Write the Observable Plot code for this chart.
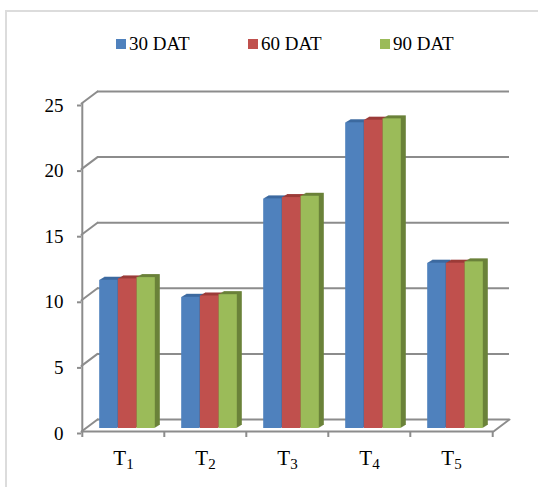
<!DOCTYPE html>
<html>
<head>
<meta charset="utf-8">
<script src="https://cdn.jsdelivr.net/npm/d3@7"></script>
<script src="https://cdn.jsdelivr.net/npm/@observablehq/plot@0.6"></script>
<style>
  html, body { margin: 0; padding: 0; background: #fff; }
  #page { position: relative; width: 538px; height: 487px; overflow: hidden; }
  #border { position: absolute; left: 5px; top: 10px; width: 560px; height: 500px;
            border-left: 2px solid #dcdcdc; border-top: 2px solid #dcdcdc; box-sizing: border-box; }
  #legend { position: absolute; left: 0; top: 0; width: 538px; height: 70px;
            font-family: "Liberation Serif", "Times New Roman", serif; font-size: 19px; color: #000; }
  .item { position: absolute; top: 33px; display: flex; align-items: center; white-space: nowrap; }
  .sw { width: 10px; height: 10px; margin-right: 3px; }
  #chart { position: absolute; left: 0; top: 70px; }
</style>
</head>
<body>
<div id="page">
  <div id="border"></div>
  <div id="legend"></div>
  <div id="chart"></div>
</div>
<script>
// ---- data ----
const treatments = ["T1", "T2", "T3", "T4", "T5"];
const labelBase = "T";
const labelSubscripts = ["1", "2", "3", "4", "5"];
const seriesNames = ["30 DAT", "60 DAT", "90 DAT"];
const dat30 = [11.3, 10.0, 17.5, 23.3, 12.6];
const dat60 = [11.4, 10.1, 17.6, 23.5, 12.6];
const dat90 = [11.5, 10.2, 17.7, 23.6, 12.7];
const yTicks = [0, 5, 10, 15, 20, 25];

// ---- styles ----
const frontColors = ["#4f81bd", "#c0504d", "#9bbb59"];
const shadeColors = ["#3d6aa0", "#9c3c39", "#6b823a"];
const gridColor = "#8c8c8c";

// legend
const legend = document.getElementById("legend");
const legendLeft = [116, 248, 380];
seriesNames.forEach((name, i) => {
  const it = document.createElement("div");
  it.className = "item";
  it.style.left = legendLeft[i] + "px";
  it.innerHTML = `<span class="sw" style="background:${frontColors[i]}"></span><span>${name}</span>`;
  legend.appendChild(it);
});

const seriesValues = [dat30, dat60, dat90];
const rows = seriesValues.map((vals, s) => treatments.map((t, i) => ({t, v: vals[i], s})));

const W = 538, H = 417;
const mL = 81, mR = 45, mT = 33, mB = 56;
const bw = (W - mL - mR) / treatments.length;
const barW = 18.67;
const groupLeft = (bw - 3 * barW) / 2;
const depthX = 16, depthY = -12;      // wall depth
const baseDx = 4, baseDy = -3;        // front face of bars
const extrude = 5;                    // extrusion layers

const marks = [];

// back-wall gridlines
marks.push(Plot.ruleY(yTicks, {y: d => d, dx: depthX, dy: depthY, stroke: gridColor, strokeWidth: 2}));
// left-wall diagonals
marks.push(Plot.vector(yTicks, {y: d => d, frameAnchor: "left", anchor: "start", length: 20,
  rotate: 53.13, shape: "spike", r: 0, fill: "none", stroke: gridColor, strokeWidth: 2}));
// right floor diagonal
marks.push(Plot.vector([0], {y: d => d, frameAnchor: "right", anchor: "start", length: 20,
  rotate: 53.13, shape: "spike", r: 0, fill: "none", stroke: gridColor, strokeWidth: 2}));
// front floor edge (x axis line)
marks.push(Plot.ruleY([0], {stroke: gridColor, strokeWidth: 2}));
// y axis line
marks.push(Plot.ruleX([treatments[0]], {x: d => d, dx: -bw / 2, y1: 0, y2: 25, stroke: gridColor, strokeWidth: 2}));
// x boundary ticks
marks.push(Plot.ruleX(treatments, {x: d => d, dx: -bw / 2, y1: 0, y2: 0, insetBottom: -6, stroke: gridColor, strokeWidth: 2}));
marks.push(Plot.ruleX([treatments[treatments.length - 1]], {x: d => d, dx: bw / 2, y1: 0, y2: 0, insetBottom: -6, stroke: gridColor, strokeWidth: 2}));

// bars with simple extrusion
rows.forEach((data, s) => {
  const insetLeft = groupLeft + s * barW;
  const insetRight = bw - insetLeft - barW;
  for (let k = extrude; k >= 1; k--) {
    marks.push(Plot.barY(data, {x: "t", y: "v", insetLeft, insetRight,
      dx: baseDx + k, dy: baseDy - 0.6 * k, fill: () => shadeColors[s]}));
  }
  marks.push(Plot.barY(data, {x: "t", y: "v", insetLeft, insetRight,
    dx: baseDx, dy: baseDy, fill: () => frontColors[s]}));
});

// axes
marks.push(Plot.axisY(yTicks, {tickSize: 4, tickPadding: 14, stroke: gridColor, strokeWidth: 2,
  fill: "#000", fontSize: 19, dy: 2}));
marks.push(Plot.axisX({tickSize: 0, tickPadding: 19, fill: "#000", fontSize: 21,
  tickFormat: d => d}));

const plot = Plot.plot({
  width: W, height: H,
  marginLeft: mL, marginRight: mR, marginTop: mT, marginBottom: mB,
  x: {domain: treatments, padding: 0, label: null},
  y: {domain: [0, 25], label: null},
  style: {fontFamily: "Liberation Serif, Times New Roman, serif", fontSize: "19px", background: "transparent", overflow: "visible"},
  marks
});

// render x tick labels as T with a real subscript
plot.querySelectorAll('[aria-label="x-axis tick label"] text').forEach(t => {
  const i = treatments.indexOf(t.textContent);
  if (i < 0) return;
  t.textContent = "";
  const ns = "http://www.w3.org/2000/svg";
  const a = document.createElementNS(ns, "tspan");
  a.textContent = labelBase;
  const b = document.createElementNS(ns, "tspan");
  b.textContent = labelSubscripts[i];
  b.setAttribute("font-size", "15");
  b.setAttribute("dy", "4");
  t.appendChild(a);
  t.appendChild(b);
});

document.getElementById("chart").appendChild(plot);
</script>
</body>
</html>
